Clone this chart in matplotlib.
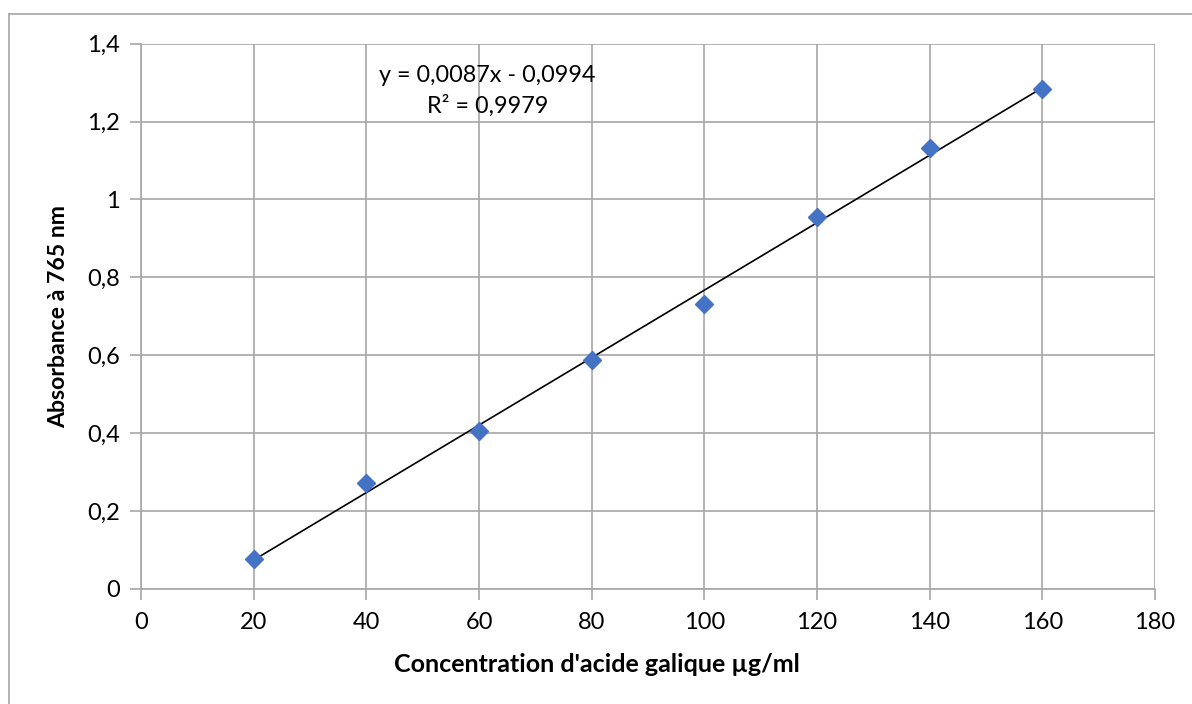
import numpy as np
import matplotlib
matplotlib.use('Agg')
import matplotlib.pyplot as plt
from matplotlib.lines import Line2D
from matplotlib.ticker import FuncFormatter

# ── Data ──────────────────────────────────────────────────────────────────────
concentration = [20, 40, 60, 80, 100, 120, 140, 160]
absorbance    = [0.076, 0.271, 0.404, 0.588, 0.732, 0.956, 1.131, 1.284]

x_ticks = [0, 20, 40, 60, 80, 100, 120, 140, 160, 180]
y_ticks = [0, 0.2, 0.4, 0.6, 0.8, 1.0, 1.2, 1.4]

eq_text = "y = 0,0087x - 0,0994\nR² = 0,9979"

# ── Style ─────────────────────────────────────────────────────────────────────
plt.rcParams['font.family'] = ['Lato', 'DejaVu Sans']
GRID = '#a6a6a6'
BLUE = '#4472c4'

fig = plt.figure(figsize=(11.92, 7.04), dpi=100)
ax = fig.add_axes([0.1183, 0.1637, 0.8507, 0.7743])

# outer chart border (only top and left visible in the crop)
fig.add_artist(Line2D([9/1192, 9/1192], [0, 1 - 14/704], color=GRID, lw=1.2))
fig.add_artist(Line2D([9/1192, 1], [1 - 14/704, 1 - 14/704], color=GRID, lw=1.2))

# trendline (least squares on the data)
slope, icpt = np.polyfit(concentration, absorbance, 1)
xs = np.array([concentration[0], concentration[-1]])
ax.plot(xs, slope * xs + icpt, color='black', lw=1.2, zorder=3)

ax.plot(concentration, absorbance, linestyle='none', marker='D',
        markersize=9.5, color=BLUE, zorder=4)

ax.set_xlim(0, 180)
ax.set_ylim(0, 1.4)
ax.set_xticks(x_ticks)
ax.set_yticks(y_ticks)
ax.yaxis.set_major_formatter(FuncFormatter(
    lambda v, p: '0' if v == 0 else ('1' if abs(v - 1) < 1e-9 else f'{v:.1f}'.replace('.', ','))))

ax.grid(True, color=GRID, lw=1.2)
ax.set_axisbelow(True)
for s in ['top', 'right']:
    ax.spines[s].set_visible(False)
for s in ['left', 'bottom']:
    ax.spines[s].set_color(GRID)
    ax.spines[s].set_linewidth(1.2)
ax.tick_params(axis='both', direction='out', length=8, width=1.2, color=GRID,
               labelsize=17, labelcolor='black')
ax.tick_params(axis='x', pad=9)
ax.tick_params(axis='y', pad=7)

ax.set_xlabel("Concentration d'acide galique µg/ml", fontsize=18,
              fontweight='bold', labelpad=14)
ax.xaxis.set_label_coords(0.4497, -0.118)
ax.set_ylabel("Absorbance à 765 nm", fontsize=16.6, fontweight='bold',
              labelpad=13)

ax.text(61.5, 1.279, eq_text, fontsize=16.8, ha='center', va='center',
        linespacing=1.5)

fig.savefig('out.png', dpi=100, facecolor='white')
